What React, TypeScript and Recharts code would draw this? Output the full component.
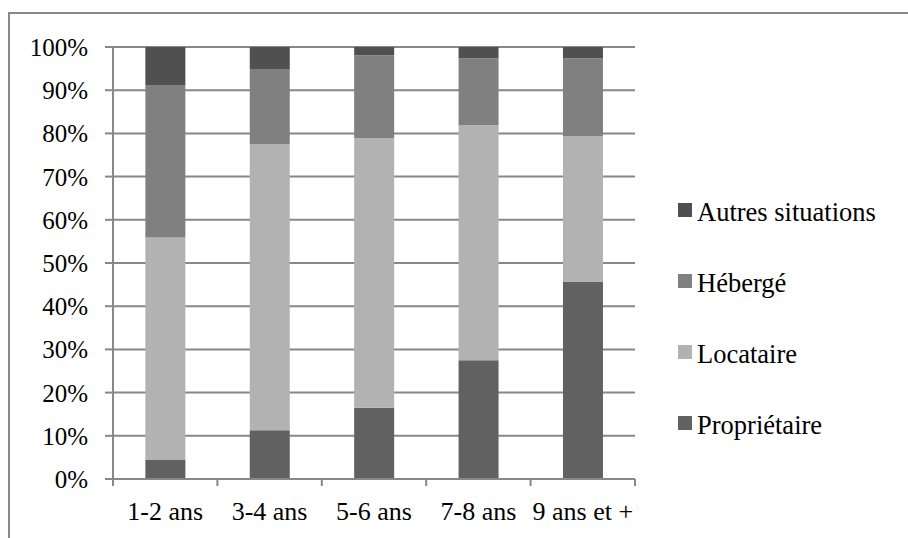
import { Bar, BarChart, CartesianGrid, XAxis, YAxis } from "recharts";

const categories = ["1-2 ans", "3-4 ans", "5-6 ans", "7-8 ans", "9 ans et +"];
const proprietaire = [4.5, 11.3, 16.5, 27.5, 45.6];
const locataire = [51.4, 66.2, 62.4, 54.4, 33.8];
const heberge = [35.3, 17.4, 19.2, 15.5, 18.0];
const autres = [8.8, 5.1, 1.9, 2.6, 2.6];
const yTicks = [0, 10, 20, 30, 40, 50, 60, 70, 80, 90, 100];

const series = [
  { key: "proprietaire", name: "Propriétaire", color: "#616161" },
  { key: "locataire", name: "Locataire", color: "#b2b2b2" },
  { key: "heberge", name: "Hébergé", color: "#808080" },
  { key: "autres", name: "Autres situations", color: "#505050" },
];

const data = categories.map((name, i) => ({
  name,
  proprietaire: proprietaire[i],
  locataire: locataire[i],
  heberge: heberge[i],
  autres: autres[i],
}));

const FONT = "Liberation Serif";
const GRID = "#888888";
const PLOT_LEFT = 113;
const PLOT_RIGHT = 635;
const BAND = (PLOT_RIGHT - PLOT_LEFT) / categories.length;

// boundary ticks like the Excel category axis, label centred in the band
const XTick = (props: any) => {
  const { x, y, payload, index } = props;
  const left = x - BAND / 2;
  const top = y - 8;
  return (
    <g>
      <line x1={left} x2={left} y1={top} y2={top + 7} stroke={GRID} strokeWidth={2} />
      {index === categories.length - 1 && (
        <line x1={left + BAND} x2={left + BAND} y1={top} y2={top + 7} stroke={GRID} strokeWidth={2} />
      )}
      <text x={x} y={y + 33} textAnchor="middle" fontFamily={FONT} fontSize={26} fill="#000">
        {payload.value}
      </text>
    </g>
  );
};

const YTick = (props: any) => {
  const { x, y, payload } = props;
  return (
    <text x={x} y={y + 9} textAnchor="end" fontFamily={FONT} fontSize={25} fill="#000">
      {`${payload.value}%`}
    </text>
  );
};

export default function App() {
  return (
    <div
      style={{
        position: "absolute",
        left: 0,
        top: 0,
        width: 908,
        height: 538,
        background: "#fff",
        overflow: "hidden",
        fontFamily: FONT,
      }}
    >
      <div
        style={{
          position: "absolute",
          left: 8,
          top: 12,
          width: 910,
          height: 540,
          borderTop: `2px solid ${GRID}`,
          borderLeft: `2px solid ${GRID}`,
        }}
      />
      <BarChart
        width={908}
        height={538}
        data={data}
        barCategoryGap="31%"
        margin={{ top: 47, right: 908 - PLOT_RIGHT, left: PLOT_LEFT - 100, bottom: 9 }}
      >
        <CartesianGrid vertical={false} stroke={GRID} strokeWidth={2} />
        <XAxis
          dataKey="name"
          height={50}
          stroke={GRID}
          strokeWidth={2}
          tickLine={false}
          tick={<XTick />}
          interval={0}
        />
        <YAxis
          width={100}
          domain={[0, 100]}
          ticks={yTicks}
          stroke={GRID}
          strokeWidth={2}
          tickSize={8}
          tickMargin={17}
          tick={<YTick />}
          allowDataOverflow
        />
        {series.map((s) => (
          <Bar key={s.key} dataKey={s.key} name={s.name} stackId="a" fill={s.color} isAnimationActive={false} />
        ))}
      </BarChart>
      {/* legend, top to bottom in reverse stacking order like Excel */}
      <div style={{ position: "absolute", left: 678, top: 177, fontFamily: FONT, fontSize: 26.5, color: "#000" }}>
        {[...series].reverse().map((s) => (
          <div key={s.key} style={{ display: "flex", alignItems: "center", height: 71 }}>
            <span
              style={{ display: "inline-block", width: 14, height: 14, background: s.color, marginRight: 5, marginTop: -6 }}
            />
            <span>{s.name}</span>
          </div>
        ))}
      </div>
    </div>
  );
}
